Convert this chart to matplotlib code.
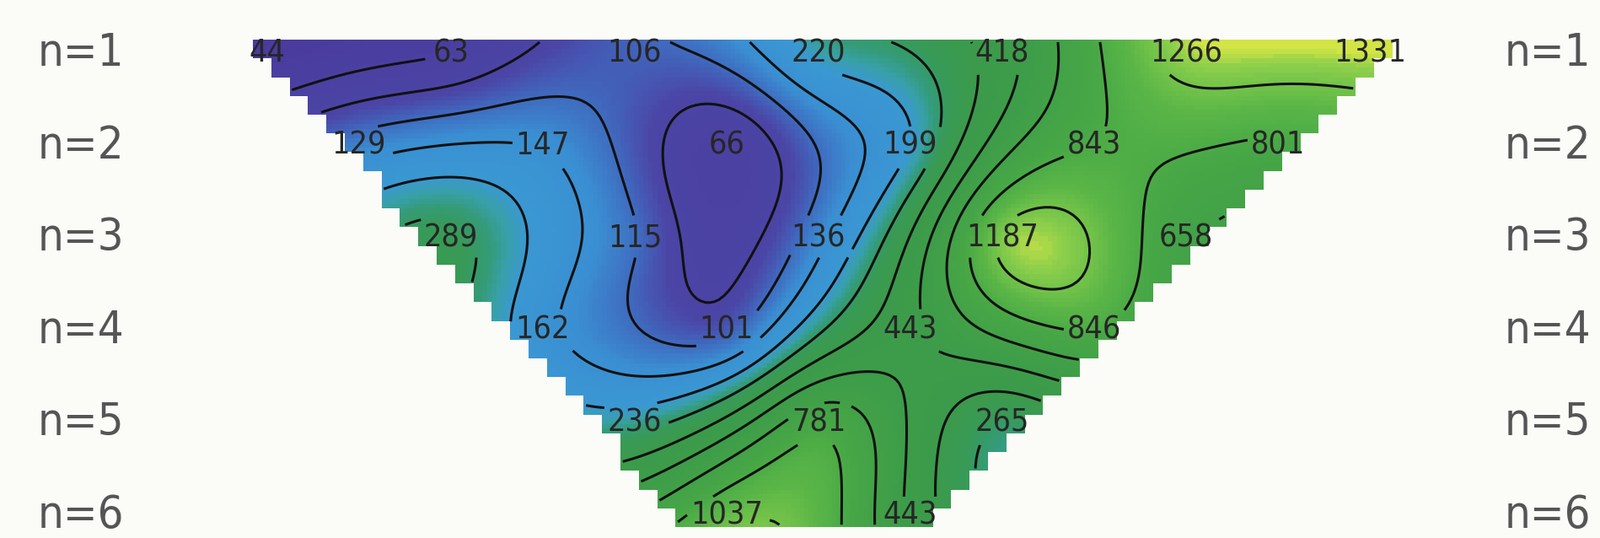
import numpy as np
import matplotlib
matplotlib.use("Agg")
import matplotlib.pyplot as plt
from matplotlib.colors import LinearSegmentedColormap, Normalize
from matplotlib import font_manager
from matplotlib.font_manager import FontProperties

# ---------------- data (apparent resistivity pseudosection) ----------------
level_labels = ["n=1", "n=2", "n=3", "n=4", "n=5", "n=6"]
row_n1 = [44, 63, 106, 220, 418, 1266, 1331]
row_n2 = [129, 147, 66, 199, 843, 801]
row_n3 = [289, 115, 136, 1187, 658]
row_n4 = [162, 101, 443, 846]
row_n5 = [236, 781, 265]
row_n6 = [1037, 443]
rows = [row_n1, row_n2, row_n3, row_n4, row_n5, row_n6]

contour_levels = [63, 84, 112, 150, 200, 266, 355, 473, 631, 841, 1122]

# colour ramp (value -> colour)
cmap_values = [40, 90, 112, 140, 200, 225, 248, 280, 340, 520, 800, 1000, 1180, 1260, 1340]
cmap_colors = ["#4a3a9c", "#4b45a6", "#3f6cc0", "#3a8fd2", "#3a98d2", "#38a0a8",
               "#349b78", "#389a58", "#3b9a4c", "#3e9d48", "#47a746", "#5bb647",
               "#7cc84a", "#93d14b", "#d2e446"]

# ---------------- fonts: prefer a condensed sans ----------------
cond_fp = None
for f in font_manager.fontManager.ttflist:
    fn = f.fname.lower()
    if ("narrow" in fn or "condensed" in fn) and "bold" not in fn and \
       "italic" not in fn and "oblique" not in fn and "light" not in fn and \
       "mono" not in fn and "serif" not in fn.replace("sans", ""):
        cond_fp = f.fname
        break
if cond_fp is not None:
    val_fp = FontProperties(fname=cond_fp, size=27)
    lab_fp = FontProperties(fname=cond_fp, size=39)
else:
    val_fp = FontProperties(family="Liberation Sans", size=26)
    lab_fp = FontProperties(family="Liberation Sans", size=41)

# ---------------- geometry of the page ----------------
W, H = 1899, 638
X0, DX = 317.0, 218.0      # pixel of first station, pixels per station
Y0, DY = 63.0, 109.6       # pixel of n=1, pixels per level

fig = plt.figure(figsize=(W / 100, H / 100), dpi=100)
fig.patch.set_facecolor("#fbfbf8")
ax = fig.add_axes([0, 0, 1, 1])
ax.set_facecolor("#fbfbf8")
ax.axis("off")
ax.set_xlim(-X0 / DX, (W - X0) / DX)
ax.set_ylim(1 + (H - Y0) / DY, 1 - Y0 / DY)

# point positions in pseudosection coordinates
px, py, pv = [], [], []
for i, r in enumerate(rows):
    n = i + 1
    for k, v in enumerate(r):
        px.append((n - 1) / 2 + k)
        py.append(n)
        pv.append(v)
px = np.array(px, float)
py = np.array(py, float)
lv = np.log10(np.array(pv, float))

# ---------------- thin plate spline interpolation (log space) ----------------
def phi(r):
    with np.errstate(divide="ignore", invalid="ignore"):
        out = r * r * np.log(r)
    return np.nan_to_num(out)

Xs, Ys = px * 2.0, py - 1.0
npts = len(px)
R = np.hypot(Xs[:, None] - Xs[None, :], Ys[:, None] - Ys[None, :])
K = phi(R)
P = np.column_stack([np.ones(npts), Xs, Ys])
A = np.zeros((npts + 3, npts + 3))
A[:npts, :npts] = K + 0.02 * np.eye(npts)
A[:npts, npts:] = P
A[npts:, :npts] = P.T
b = np.concatenate([lv, np.zeros(3)])
sol = np.linalg.solve(A, b)
w, a = sol[:npts], sol[npts:]

def tps(x, y):
    xs, ys = x * 2.0, y - 1.0
    r = np.hypot(xs[..., None] - Xs, ys[..., None] - Ys)
    return phi(r) @ w + a[0] + a[1] * xs + a[2] * ys

# ---------------- grid with staircase mask ----------------
top_n, bot_n = 0.855, 6.128
left_top, left_slope = -0.078, 0.458
right_top, right_slope = 6.14, -0.49
cdx = 0.1
ncy = 26
cdy = (bot_n - top_n) / ncy
sub = 4
ncx = int(np.ceil((right_top - left_top) / cdx)) + 1

xe = left_top + np.arange(ncx * sub + 1) * cdx / sub
ye = top_n + np.arange(ncy * sub + 1) * cdy / sub
xc = 0.5 * (xe[:-1] + xe[1:])
yc = 0.5 * (ye[:-1] + ye[1:])
XC, YC = np.meshgrid(xc, yc)

cxi = np.floor((XC - left_top) / cdx)
cyi = np.floor((YC - top_n) / cdy)
cxc = left_top + (cxi + 0.5) * cdx
cyc = top_n + (cyi + 0.5) * cdy
inside = (cxc >= left_top + left_slope * (cyc - top_n) - 0.04) & \
         (cxc <= right_top + right_slope * (cyc - top_n) + 0.04)

Z = tps(XC, YC)
vmin, vmax = np.log10(cmap_values[0]), np.log10(cmap_values[-1])
Z = np.clip(Z, vmin, vmax)

pos = (np.log10(cmap_values) - vmin) / (vmax - vmin)
cmap = LinearSegmentedColormap.from_list("res", list(zip(pos, cmap_colors)))

Zm = np.ma.masked_where(~inside, Z)
ax.pcolormesh(xe, ye, Zm, cmap=cmap, norm=Normalize(vmin, vmax),
              shading="flat", antialiased=False, zorder=1)

# contour lines with gaps around value labels
gap = np.zeros_like(inside)
for x, y, v in zip(px, py, pv):
    hw = 0.045 * len(str(v)) + 0.03
    gap |= (np.abs(XC - x) < hw) & (np.abs(YC - y) < 0.2)
Zc = np.ma.masked_where(~inside | gap, Z)
ax.contour(XC, YC, Zc, levels=np.log10(contour_levels), colors="#111111",
           linewidths=2.2, zorder=2)

# value labels
for x, y, v in zip(px, py, pv):
    ax.text(x, y, str(v), ha="center", va="center", fontproperties=val_fp,
            color="#262626", zorder=3)

# n = labels on both sides
for i, lab in enumerate(level_labels):
    n = i + 1
    ax.text((45 - X0) / DX, n, lab, ha="left", va="center",
            fontproperties=lab_fp, color="#555555")
    ax.text((1785 - X0) / DX, n, lab, ha="left", va="center",
            fontproperties=lab_fp, color="#555555")

fig.savefig("out.png", dpi=100, facecolor=fig.get_facecolor())
